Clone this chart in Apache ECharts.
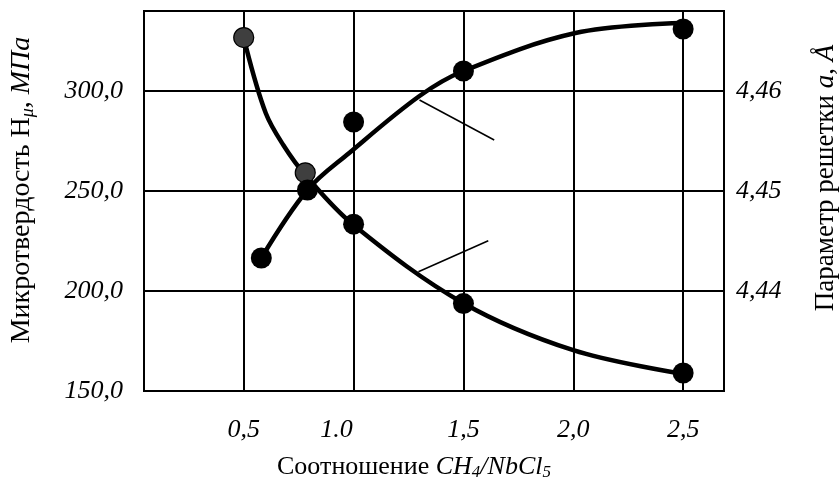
<!DOCTYPE html>
<html>
<head>
<meta charset="utf-8">
<script src="https://cdn.jsdelivr.net/npm/echarts@6/dist/echarts.min.js"></script>
<style>
  html, body { margin: 0; padding: 0; background: #fff; }
  #chart-container { width: 839px; height: 486px; }
</style>
</head>
<body>
<div id="chart-container"></div>
<script>
// ratio CH4/NbCl5 tick positions
var xTicks = [0.5, 1.0, 1.5, 2.0, 2.5];

// microhardness points (left axis), first two drawn grey
var hardX = [0.5, 0.78, 1.0, 1.5, 2.5];
var hardY = [326.7, 259.1, 233.4, 193.7, 159.0];
// fitted curve through microhardness
var hardCurveX = [0.51, 0.6, 0.68, 0.78, 1.0, 1.5, 2.0, 2.49];
var hardCurveY = [322.2, 289.0, 273.0, 258.0, 233.0, 193.9, 170.4, 158.7];

// lattice parameter points (right axis)
var latX = [0.58, 0.79, 1.0, 1.5, 2.5];
var latY = [4.4433, 4.4501, 4.4569, 4.4620, 4.4662];
// fitted curve through lattice parameter
var latCurveX = [0.58, 0.79, 0.98, 1.3, 1.5, 2.01, 2.49];
var latCurveY = [4.4433, 4.4501, 4.4538, 4.4595, 4.4620, 4.4658, 4.4668];

// leader lines (in left-axis units)
var leaderUp = [[1.3, 295.5], [1.64, 275.5]];
var leaderDown = [[1.295, 209.6], [1.613, 225.1]];

var dom = document.getElementById('chart-container');
var myChart = echarts.init(dom, null, { renderer: 'canvas' });

var font = '"Liberation Serif", "Times New Roman", serif';

function pairs(xs, ys) {
  return xs.map(function (x, i) { return [x, ys[i]]; });
}

var option = {
  animation: false,
  backgroundColor: '#fff',
  textStyle: { fontFamily: font, color: '#000' },
  grid: {
    left: 144, right: 115, top: 11, bottom: 95,
    outerBoundsMode: 'none',
    show: true, borderColor: '#000', borderWidth: 2
  },
  xAxis: {
    type: 'value',
    min: 0.046, max: 2.686,
    name: 'Соотношение {i|CH}{isub|4}{i|/NbCl}{isub|5}',
    nameLocation: 'middle',
    nameGap: 62,
    nameTextStyle: {
      fontFamily: font, fontSize: 26, color: '#000',
      padding: [0, 40, 0, 0],
      rich: {
        i: { fontFamily: font, fontSize: 26, fontStyle: 'italic', color: '#000' },
        isub: { fontFamily: font, fontSize: 17, fontStyle: 'italic', color: '#000', verticalAlign: 'bottom', padding: [11, 0, 0, 0] }
      }
    },
    axisLine: { show: false },
    axisTick: { show: false, customValues: xTicks },
    axisLabel: {
      customValues: xTicks,
      margin: 26,
      fontFamily: font, fontSize: 26, fontStyle: 'italic', color: '#000',
      formatter: function (v) {
        if (Math.abs(v - 1) < 1e-9) return '{s|1.0}';
        return v.toFixed(1).replace('.', ',');
      },
      rich: {
        s: { fontFamily: font, fontSize: 26, fontStyle: 'italic', color: '#000', padding: [0, 34, 0, 0] }
      }
    },
    splitLine: { show: true, lineStyle: { color: '#000', width: 2 } }
  },
  yAxis: [
    {
      type: 'value',
      min: 150, max: 340, interval: 50,
      position: 'left',
      name: 'Микротвердость H{sub|μ}, {i|МПа}',
      nameLocation: 'middle',
      nameGap: 107,
      nameTextStyle: {
        fontFamily: font, fontSize: 28, color: '#000',
        padding: [0, 0, 0, 22],
        rich: {
          sub: { fontFamily: font, fontSize: 18, fontStyle: 'italic', color: '#000', verticalAlign: 'bottom', padding: [12, 0, 0, 0] },
          i: { fontFamily: font, fontSize: 28, fontStyle: 'italic', color: '#000' }
        }
      },
      axisLine: { show: false },
      axisTick: { show: false },
      axisLabel: {
        margin: 21, showMaxLabel: false,
        fontFamily: font, fontSize: 26, fontStyle: 'italic', color: '#000',
        formatter: function (v) { return v.toFixed(1).replace('.', ','); }
      },
      splitLine: { show: true, lineStyle: { color: '#000', width: 2 } }
    },
    {
      type: 'value',
      min: 4.43, max: 4.468, interval: 0.01,
      position: 'right',
      name: 'Параметр решетки {i|a}, {i|Å}',
      nameLocation: 'middle',
      nameGap: 88,
      nameTextStyle: {
        fontFamily: font, fontSize: 27, color: '#000',
        padding: [0, 0, 0, 46],
        rich: {
          i: { fontFamily: font, fontSize: 27, fontStyle: 'italic', color: '#000' }
        }
      },
      axisLine: { show: false },
      axisTick: { show: false },
      axisLabel: {
        margin: 12, showMaxLabel: false, showMinLabel: false,
        fontFamily: font, fontSize: 26, fontStyle: 'italic', color: '#000',
        formatter: function (v) { return v.toFixed(2).replace('.', ','); }
      },
      splitLine: { show: false }
    }
  ],
  series: [
    {
      name: 'hardCurve', type: 'line', yAxisIndex: 0,
      data: pairs(hardCurveX, hardCurveY),
      smooth: 0.35, showSymbol: false,
      lineStyle: { color: '#000', width: 4.5 }, z: 3
    },
    {
      name: 'latCurve', type: 'line', yAxisIndex: 1,
      data: pairs(latCurveX, latCurveY),
      smooth: 0.35, showSymbol: false,
      lineStyle: { color: '#000', width: 4.5 }, z: 3
    },
    {
      name: 'leaderUp', type: 'line', yAxisIndex: 0,
      data: leaderUp, showSymbol: false,
      lineStyle: { color: '#000', width: 1.5 }, z: 2
    },
    {
      name: 'leaderDown', type: 'line', yAxisIndex: 0,
      data: leaderDown, showSymbol: false,
      lineStyle: { color: '#000', width: 1.5 }, z: 2
    },
    {
      name: 'hardGrey', type: 'scatter', yAxisIndex: 0,
      data: pairs(hardX, hardY).slice(0, 2),
      symbolSize: 20,
      itemStyle: { color: '#3f3f3f', borderColor: '#000', borderWidth: 1.2, opacity: 1 }, z: 4
    },
    {
      name: 'hardBlack', type: 'scatter', yAxisIndex: 0,
      data: pairs(hardX, hardY).slice(2),
      symbolSize: 21,
      itemStyle: { color: '#000', opacity: 1 }, z: 5
    },
    {
      name: 'latPoints', type: 'scatter', yAxisIndex: 1,
      data: pairs(latX, latY),
      symbolSize: 21,
      itemStyle: { color: '#000', opacity: 1 }, z: 5
    }
  ]
};

myChart.setOption(option);
window.addEventListener('resize', myChart.resize);
</script>
</body>
</html>
